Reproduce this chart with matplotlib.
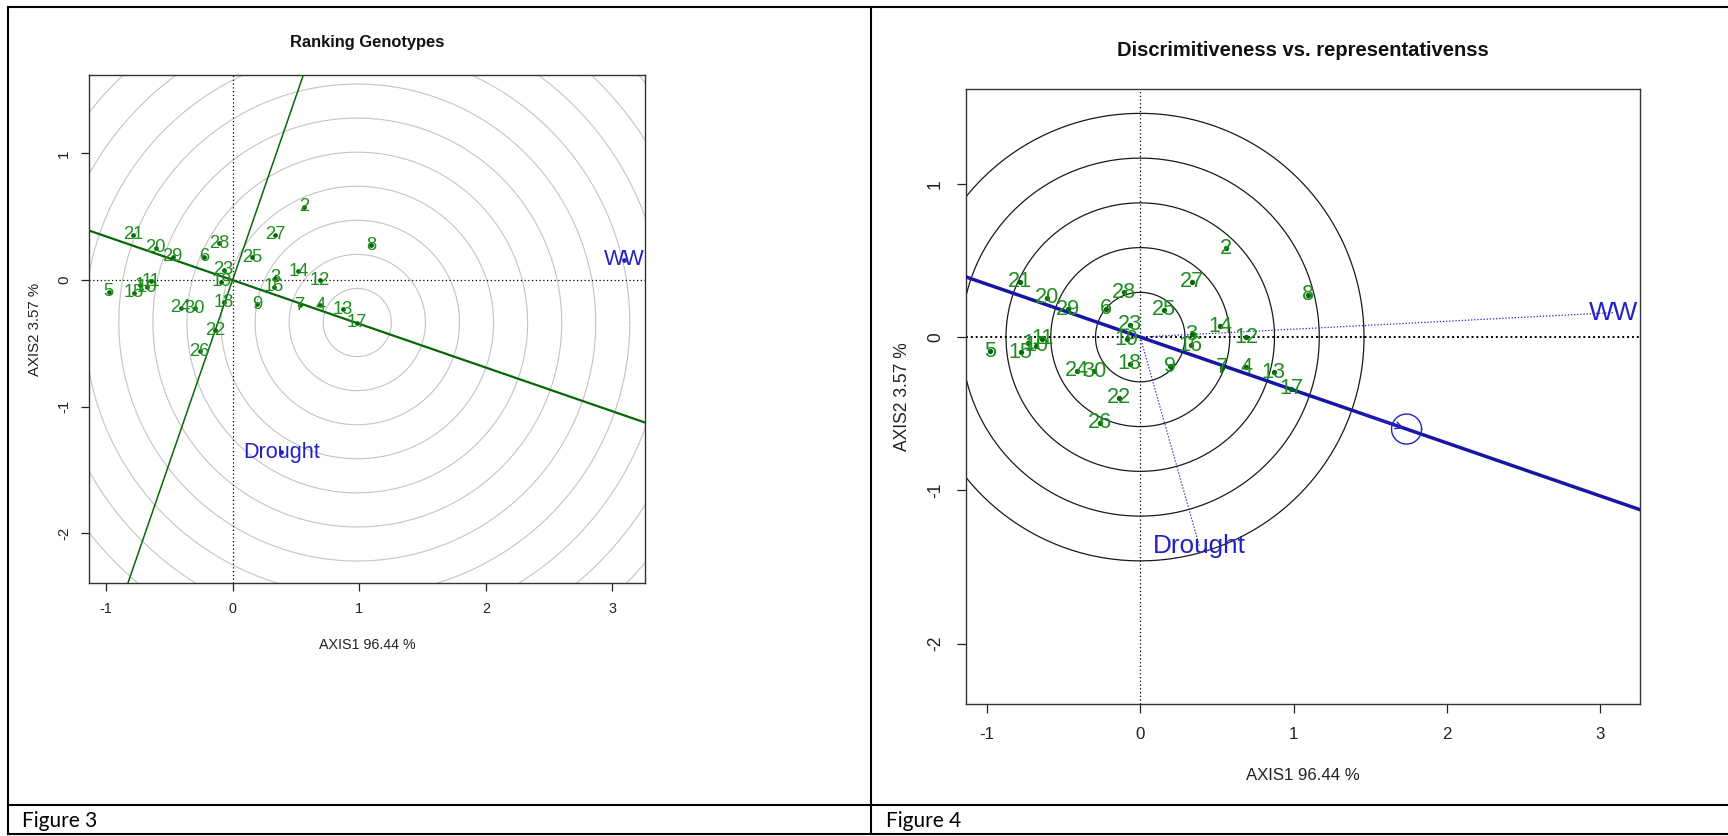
import numpy as np
import matplotlib.pyplot as plt
from matplotlib.lines import Line2D

plt.rcParams["font.family"] = "Liberation Sans"
plt.rcParams["axes.unicode_minus"] = False

# genotype scores (same GGE biplot in both panels)
gen_labels = [str(i) for i in range(1, 31)]
gen_x = [-0.73, 0.562, 0.335, 0.693, -0.979, -0.226, 0.532, 1.097, 0.192, -0.678,
         -0.64, 0.69, 0.87, 0.52, -0.78, 0.328, 0.985, -0.068, -0.088, -0.608,
         -0.785, -0.14, -0.07, -0.41, 0.155, -0.26, 0.335, -0.103, -0.472, -0.30]
gen_y = [-0.04, 0.58, 0.018, -0.197, -0.093, 0.185, -0.200, 0.276, -0.19, -0.055,
         -0.01, 0.0, -0.23, 0.07, -0.10, -0.052, -0.337, -0.175, -0.015, 0.256,
         0.36, -0.395, 0.08, -0.22, 0.18, -0.56, 0.36, 0.292, 0.183, -0.222]

# environment scores
env_labels = ["WW", "Drought"]
env_x = [3.09, 0.385]
env_y = [0.16, -1.36]

x_ticks = [-1, 0, 1, 2, 3]
y_ticks = [-2, -1, 0, 1]
x_lim = (-1.135, 3.26)
y_lim = (-2.394, 1.617)
x_title = "AXIS1 96.44 %"
y_title = "AXIS2 3.57 %"

# concentric rings
rank_center = (0.985, -0.335)
rank_step = 0.269
rank_rings = 12
disc_step = 0.292
disc_rings = 5
avg_env_radius = 0.098

GREEN_TXT = "#1e8e1e"
GREEN_LINE = "#066806"
BLUE_TXT = "#2222c4"
BLUE_LINE = "#1616a4"

W, H = 1728, 836
fig = plt.figure(figsize=(W / 100, H / 100), dpi=100)


def fx(px):
    return px / W


def fy(py):
    return 1 - py / H


def setup_axes(box, tick_fs, tick_len, xpad, ypad, title, title_y, title_fs, xlab_y, ylab_x):
    left, top, right, bottom = box
    ax = fig.add_axes([fx(left), fy(bottom), fx(right - left), fy(top) - fy(bottom)])
    ax.set_xlim(*x_lim)
    ax.set_ylim(*y_lim)
    ax.set_xticks(x_ticks)
    ax.set_yticks(y_ticks)
    ax.set_xticklabels([str(t) for t in x_ticks])
    ax.set_yticklabels([str(t) for t in y_ticks])
    ax.tick_params(axis="x", length=tick_len, width=0.9, labelsize=tick_fs * 1.04, pad=xpad,
                   colors="#222222")
    ax.tick_params(axis="y", length=tick_len, width=0.9, labelsize=tick_fs * 1.08, pad=ypad,
                   colors="#222222", labelrotation=90)
    for lbl in ax.get_yticklabels():
        lbl.set_va("center")
    for s in ax.spines.values():
        s.set_color("#333333")
        s.set_linewidth(1.0)
    ax.text(0.5, title_y, title, transform=ax.transAxes, ha="center", va="center",
            fontsize=title_fs, fontweight="bold", color="#111111")
    ax.set_xlabel(x_title, fontsize=tick_fs * 1.03, va="center", color="#222222")
    ax.xaxis.set_label_coords(0.5, xlab_y)
    ax.set_ylabel(y_title, fontsize=tick_fs * 1.08, va="center", color="#222222")
    ax.yaxis.set_label_coords(ylab_x, 0.5)
    ax.axvline(0, color="black", lw=0.9, ls=(0, (1, 2)), zorder=2)
    return ax


theta = np.linspace(0, 2 * np.pi, 400)
avg_x = np.mean(env_x)
avg_y = np.mean(env_y)
aec_slope = avg_y / avg_x

# ---- Figure 3: ranking genotypes ----
ax1 = setup_axes((88.8, 75.3, 645.4, 583.3), 10, 5.8, 8.0, 7.0,
                 "Ranking Genotypes", (583.3 - 43) / 508, 11.9,
                 (583.3 - 645) / 508, (35.5 - 88.8) / 556.6)
ax1.axhline(0, color="black", lw=0.9, ls=(0, (1, 2)), zorder=2)
for k in range(1, rank_rings + 1):
    r = k * rank_step
    ax1.plot(rank_center[0] + r * np.cos(theta), rank_center[1] + r * np.sin(theta),
             color="#c4c4c4", lw=0.8, zorder=1)
ax1.axline((0, 0), slope=aec_slope, color=GREEN_LINE, lw=1.6, zorder=3)
ax1.axline((0, 0), slope=-1 / aec_slope, color=GREEN_LINE, lw=1.1, zorder=3)
ax1.plot(gen_x, gen_y, "o", ms=2.4, color=GREEN_LINE, zorder=4)
for lab, x, y in zip(gen_labels, gen_x, gen_y):
    ax1.text(x, y, lab, color=GREEN_TXT, fontsize=13.2, ha="center", va="center", zorder=5)
ax1.plot(env_x, env_y, "o", ms=2.4, color=BLUE_TXT, zorder=4)
for lab, x, y in zip(env_labels, env_x, env_y):
    ax1.text(x, y, lab, color=BLUE_TXT, fontsize=15.6, ha="center", va="center", zorder=5)

# ---- Figure 4: discriminativeness vs representativeness ----
ax2 = setup_axes((966.3, 89.3, 1639.9, 704), 11.7, 6.7, 9.6, 9.4,
                 "Discrimitiveness vs. representativenss", (704 - 50) / 614.7, 14.5,
                 (704 - 775) / 614.7, (903 - 966.3) / 673.6)
for k in range(1, disc_rings + 1):
    r = k * disc_step
    ax2.plot(r * np.cos(theta), r * np.sin(theta), color="#1a1a1a", lw=0.9, zorder=1)
ax2.axhline(0, color="black", lw=1.4, ls=(0, (1, 1.5)), zorder=2)
ax2.axline((0, 0), slope=aec_slope, color=BLUE_LINE, lw=2.5, zorder=3)
for x, y in zip(env_x, env_y):
    ax2.plot([0, x], [0, y], color=BLUE_TXT, lw=0.9, ls=(0, (1, 1.5)), zorder=3)
ax2.plot(avg_x + avg_env_radius * np.cos(theta), avg_y + avg_env_radius * np.sin(theta),
         color=BLUE_TXT, lw=1.0, zorder=4)
ax2.annotate("", xy=(avg_x, avg_y), xytext=(avg_x - 0.3, avg_y - 0.3 * aec_slope),
             arrowprops=dict(arrowstyle="->,head_length=0.5,head_width=0.25", color=BLUE_TXT, lw=1.0),
             zorder=4)
ax2.plot(gen_x, gen_y, "o", ms=2.8, color=GREEN_LINE, zorder=4)
for lab, x, y in zip(gen_labels, gen_x, gen_y):
    ax2.text(x, y, lab, color=GREEN_TXT, fontsize=15.6, ha="center", va="center", zorder=5)
for lab, x, y in zip(env_labels, env_x, env_y):
    ax2.text(x, y, lab, color=BLUE_TXT, fontsize=18.8, ha="center", va="center", zorder=5)

# ---- table borders and captions ----
border = dict(color="black", lw=1.5, transform=fig.transFigure)
fig.add_artist(Line2D([fx(8), 1], [fy(7), fy(7)], **border))
fig.add_artist(Line2D([fx(8), 1], [fy(805), fy(805)], **border))
fig.add_artist(Line2D([fx(8), 1], [fy(834), fy(834)], **border))
fig.add_artist(Line2D([fx(8), fx(8)], [fy(7), fy(834)], **border))
fig.add_artist(Line2D([fx(871), fx(871)], [fy(7), fy(834)], **border))
fig.text(fx(22), fy(821), "Figure 3", fontsize=15, family="Lato", va="center", ha="left")
fig.text(fx(886), fy(821), "Figure 4", fontsize=15, family="Lato", va="center", ha="left")

fig.savefig("out.png", dpi=100)
